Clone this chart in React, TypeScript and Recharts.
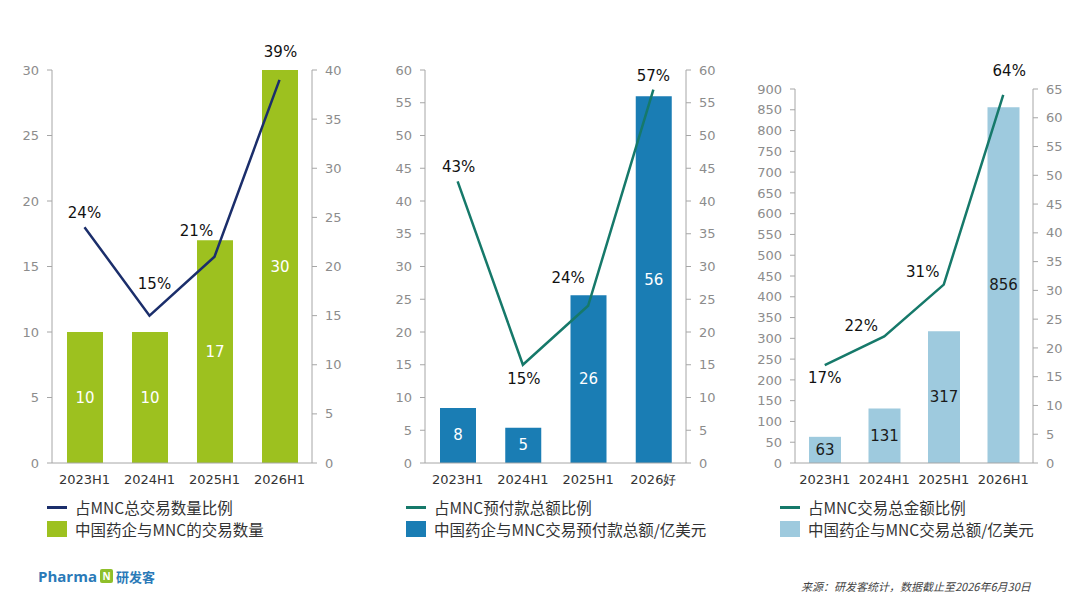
import React from 'react';
import { ComposedChart, Bar, Line, XAxis, YAxis, LabelList } from 'recharts';

const CATS_A = ['2023H1', '2024H1', '2025H1', '2026H1'];
const CATS_B = ['2023H1', '2024H1', '2025H1', '2026好'];

const DEAL_COUNT = [10, 10, 17, 30];
const DEAL_SHARE = [24, 15, 21, 39];

const UPFRONT = [8.4, 5.4, 25.6, 56];
const UPFRONT_SHARE = [43, 15, 24, 57];

const TOTAL = [63, 131, 317, 856];
const TOTAL_SHARE = [17, 22, 31, 64];

const TICKS_0_30 = [0, 5, 10, 15, 20, 25, 30];
const TICKS_0_40 = [0, 5, 10, 15, 20, 25, 30, 35, 40];
const TICKS_0_60 = [0, 5, 10, 15, 20, 25, 30, 35, 40, 45, 50, 55, 60];
const TICKS_0_900 = [0, 50, 100, 150, 200, 250, 300, 350, 400, 450, 500, 550, 600, 650, 700, 750, 800, 850, 900];
const TICKS_0_65 = [0, 5, 10, 15, 20, 25, 30, 35, 40, 45, 50, 55, 60, 65];

const LEGEND_A = ['占MNC总交易数量比例', '中国药企与MNC的交易数量'];
const LEGEND_B = ['占MNC预付款总额比例', '中国药企与MNC交易预付款总额/亿美元'];
const LEGEND_C = ['占MNC交易总金额比例', '中国药企与MNC交易总额/亿美元'];

const build = (cats: string[], bars: number[], share: number[]) =>
  cats.map((c, i) => ({ cat: c, bar: bars[i], share: share[i] }));

const dataA = build(CATS_A, DEAL_COUNT, DEAL_SHARE);
const dataB = build(CATS_B, UPFRONT, UPFRONT_SHARE);
const dataC = build(CATS_A, TOTAL, TOTAL_SHARE);

// label offsets (layout only)
const OFF_A: [number, number][] = [[0, -14], [5, -32], [-18, -26], [1, -28]];
const OFF_B: [number, number][] = [[1, -14], [1, 14], [-20, -28], [0, -14]];
const OFF_C: [number, number][] = [[0, 13], [-23, -10], [-21, -13], [6, -24]];

const AXIS_FONT = '"DejaVu Sans", Verdana, sans-serif';
const CJK_FONT = '"Noto Sans CJK SC", "DejaVu Sans", sans-serif';
const AXIS_GRAY = '#a6a6a6';

const lineLabel = (offs: [number, number][]) => (props: any) => {
  const { x, y, index, value } = props;
  const o = offs[index] || [0, -14];
  return (
    <text
      x={x + o[0]}
      y={y + o[1]}
      textAnchor="middle"
      dominantBaseline="central"
      fontFamily={AXIS_FONT}
      fontSize={15}
      fill="#111"
    >
      {value}%
    </text>
  );
};

const barLabel = (color: string) => (props: any) => {
  const { x, y, width, height, value } = props;
  return (
    <text
      x={x + width / 2}
      y={y + height / 2}
      textAnchor="middle"
      dominantBaseline="central"
      fontFamily={AXIS_FONT}
      fontSize={15}
      fill={color}
    >
      {Math.round(value)}
    </text>
  );
};

type PanelProps = {
  data: any[];
  left: number;
  width: number;
  top: number;
  marginLeft: number;
  marginRight: number;
  leftWidth: number;
  leftTicks: number[];
  rightTicks: number[];
  barColor: string;
  barSize: number;
  lineColor: string;
  barLabelColor: string;
  offs: [number, number][];
};

const Panel = (p: PanelProps) => (
  <div style={{ position: 'absolute', left: p.left, top: 0 }}>
    <ComposedChart
      width={p.width}
      height={490}
      data={p.data}
      margin={{ top: p.top, right: p.marginRight, bottom: 5, left: p.marginLeft }}
    >
      <XAxis
        dataKey="cat"
        height={22}
        tickLine={false}
        tickMargin={6}
        axisLine={{ stroke: AXIS_GRAY }}
        tick={{ fill: '#333', fontSize: 13, fontFamily: AXIS_FONT }}
        interval={0}
      />
      <YAxis
        yAxisId="left"
        orientation="left"
        width={p.leftWidth}
        domain={[p.leftTicks[0], p.leftTicks[p.leftTicks.length - 1]]}
        ticks={p.leftTicks}
        interval={0}
        tickSize={5}
        tickMargin={8}
        axisLine={{ stroke: AXIS_GRAY }}
        tickLine={{ stroke: AXIS_GRAY }}
        tick={{ fill: '#8c8c8c', fontSize: 13, fontFamily: AXIS_FONT }}
      />
      <YAxis
        yAxisId="right"
        orientation="right"
        width={40}
        domain={[p.rightTicks[0], p.rightTicks[p.rightTicks.length - 1]]}
        ticks={p.rightTicks}
        interval={0}
        tickSize={5}
        tickMargin={8}
        axisLine={{ stroke: AXIS_GRAY }}
        tickLine={{ stroke: AXIS_GRAY }}
        tick={{ fill: '#8c8c8c', fontSize: 13, fontFamily: AXIS_FONT }}
      />
      <Bar yAxisId="left" dataKey="bar" fill={p.barColor} barSize={p.barSize} isAnimationActive={false}>
        <LabelList dataKey="bar" content={barLabel(p.barLabelColor)} />
      </Bar>
      <Line
        yAxisId="right"
        dataKey="share"
        type="linear"
        stroke={p.lineColor}
        strokeWidth={2.5}
        dot={false}
        activeDot={false}
        isAnimationActive={false}
      >
        <LabelList dataKey="share" content={lineLabel(p.offs)} />
      </Line>
    </ComposedChart>
  </div>
);

const LegendBlock = ({ left, texts, lineColor, boxColor }: { left: number; texts: string[]; lineColor: string; boxColor: string }) => (
  <div style={{ position: 'absolute', left, top: 497, fontFamily: CJK_FONT, fontSize: 15.5, color: '#333' }}>
    <div style={{ display: 'flex', alignItems: 'center', height: 20 }}>
      <div style={{ width: 20, height: 3, background: lineColor, marginRight: 8 }} />
      <span>{texts[0]}</span>
    </div>
    <div style={{ display: 'flex', alignItems: 'center', height: 20, marginTop: 2 }}>
      <div style={{ width: 20, height: 16, background: boxColor, marginRight: 8 }} />
      <span>{texts[1]}</span>
    </div>
  </div>
);

export default function App() {
  return (
    <div
      style={{
        position: 'absolute',
        left: 0,
        top: 0,
        width: 1080,
        height: 608,
        background: '#fff',
        overflow: 'hidden',
      }}
    >
      <Panel
        data={dataA}
        left={0}
        width={360}
        top={70}
        marginLeft={12}
        marginRight={8}
        leftWidth={40}
        leftTicks={TICKS_0_30}
        rightTicks={TICKS_0_40}
        barColor="#9dc11f"
        barSize={36}
        lineColor="#1b2e6b"
        barLabelColor="#ffffff"
        offs={OFF_A}
      />
      <Panel
        data={dataB}
        left={360}
        width={370}
        top={70}
        marginLeft={25}
        marginRight={4}
        leftWidth={40}
        leftTicks={TICKS_0_60}
        rightTicks={TICKS_0_60}
        barColor="#1a7db4"
        barSize={36}
        lineColor="#16796a"
        barLabelColor="#ffffff"
        offs={OFF_B}
      />
      <Panel
        data={dataC}
        left={720}
        width={360}
        top={89}
        marginLeft={30}
        marginRight={7}
        leftWidth={45}
        leftTicks={TICKS_0_900}
        rightTicks={TICKS_0_65}
        barColor="#9ecade"
        barSize={32}
        lineColor="#16796a"
        barLabelColor="#1a1a1a"
        offs={OFF_C}
      />

      <LegendBlock left={47} texts={LEGEND_A} lineColor="#1b2e6b" boxColor="#9dc11f" />
      <LegendBlock left={406} texts={LEGEND_B} lineColor="#16796a" boxColor="#1a7db4" />
      <LegendBlock left={780} texts={LEGEND_C} lineColor="#16796a" boxColor="#9ecade" />

      <div
        style={{
          position: 'absolute',
          left: 38,
          top: 566,
          display: 'flex',
          alignItems: 'center',
          fontFamily: '"Open Sans", "DejaVu Sans", sans-serif',
          fontWeight: 700,
          fontSize: 15,
          color: '#2a7ab8',
        }}
      >
        <span>Pharma</span>
        <span
          style={{
            display: 'inline-block',
            width: 13,
            height: 14,
            background: '#8fbf2a',
            borderRadius: 2,
            marginLeft: 3,
            marginRight: 3,
            color: '#fff',
            fontSize: 10,
            lineHeight: '14px',
            textAlign: 'center',
          }}
        >
          N
        </span>
        <span style={{ fontFamily: CJK_FONT, fontSize: 13 }}>研发客</span>
      </div>

      <div
        style={{
          position: 'absolute',
          left: 801,
          top: 578,
          fontFamily: CJK_FONT,
          fontStyle: 'italic',
          fontSize: 11,
          color: '#444',
          whiteSpace: 'nowrap',
        }}
      >
        来源：研发客统计，数据截止至2026年6月30日
      </div>
    </div>
  );
}
